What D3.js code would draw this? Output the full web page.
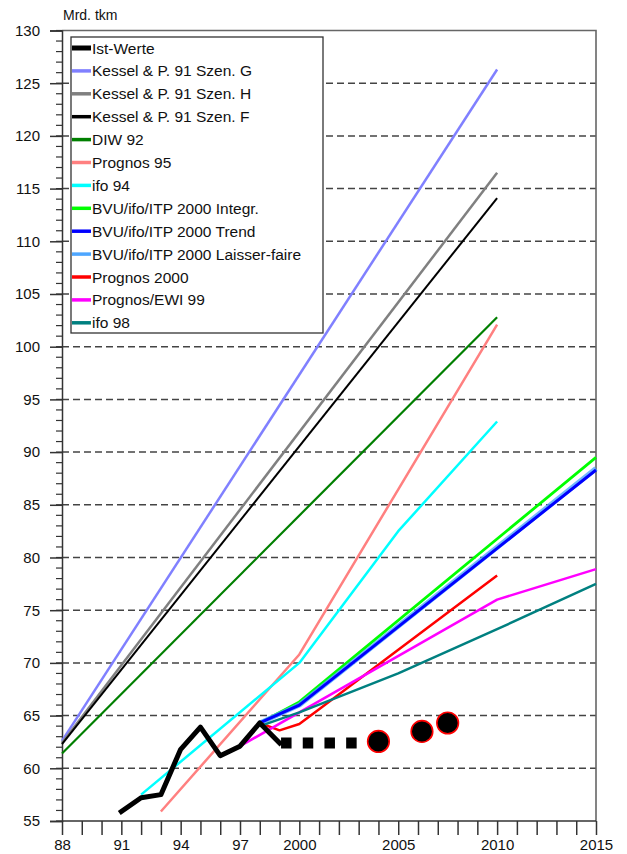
<!DOCTYPE html>
<html>
<head>
<meta charset="utf-8">
<script src="https://cdn.jsdelivr.net/npm/d3@7"></script>
<style>
  body { margin: 0; background: #fff; }
  svg { display: block; font-family: "Liberation Sans", Arial, sans-serif; }
</style>
</head>
<body>
<svg id="chart" width="627" height="854"></svg>
<script>
// values: [year, Mrd. tkm]
const istWerte = [[1991, 55.9], [1992, 57.2], [1993, 57.5], [1994, 61.8], [1995, 63.9],
                  [1996, 61.2], [1997, 62.1], [1998, 64.3], [1999, 62.4]];
const istGeschaetzt = [[1999, 62.4], [2003, 62.4]];
const istPunkte = [[2004, 62.55], [2006.2, 63.5], [2007.5, 64.3]];

const kesselG = [[1988, 62.6], [2010, 126.3]];
const kesselH = [[1988, 62.4], [2010, 116.5]];
const kesselF = [[1988, 62.3], [2010, 114.1]];
const diw92 = [[1988, 61.4], [2010, 102.8]];
const prognos95 = [[1993, 55.9], [2000, 70.8], [2010, 102.1]];
const ifo94 = [[1992, 57.5], [2000, 70.0], [2005, 82.5], [2010, 92.9]];
const bvuIntegr = [[1998, 64.3], [2000, 66.3], [2015, 89.5]];
const bvuTrend = [[1998, 64.3], [2000, 66.0], [2015, 88.3]];
const bvuLaisser = [[1998, 64.3], [2000, 66.0], [2015, 88.45]];
const prognos2000 = [[1998, 64.3], [1999, 63.6], [2000, 64.2], [2001, 65.6], [2010, 78.3]];
const prognosEwi99 = [[1997, 62.1], [2010, 76.0], [2015, 78.9]];
const ifo98 = [[1998, 64.0], [2000, 65.3], [2005, 69.0], [2010, 73.2], [2015, 77.5]];

const legendNames = ["Ist-Werte", "Kessel & P. 91 Szen. G", "Kessel & P. 91 Szen. H",
  "Kessel & P. 91 Szen. F", "DIW 92", "Prognos 95", "ifo 94", "BVU/ifo/ITP 2000 Integr.",
  "BVU/ifo/ITP 2000 Trend", "BVU/ifo/ITP 2000 Laisser-faire", "Prognos 2000",
  "Prognos/EWI 99", "ifo 98"];

const xTickYears = d3.range(1988, 2016);
const xTickLabels = {1988: "88", 1991: "91", 1994: "94", 1997: "97",
                     2000: "2000", 2005: "2005", 2010: "2010", 2015: "2015"};
const yMajor = d3.range(55, 131, 5);
const yMinor = d3.range(55, 131, 1);

// styles, in legend order
const colors = ["#000000", "#8080ff", "#808080", "#000000", "#007f00", "#ff8080", "#00ffff",
  "#00ff00", "#0000ff", "#4da6ff", "#ff0000", "#ff00ff", "#008080"];
const widths = [5, 2.5, 2.5, 2, 2.2, 2.5, 2.5, 2.8, 3, 5, 2.5, 2.5, 2.5];
const seriesData = [istWerte, kesselG, kesselH, kesselF, diw92, prognos95, ifo94,
  bvuIntegr, bvuTrend, bvuLaisser, prognos2000, prognosEwi99, ifo98];

const svg = d3.select("#chart");
const x = d3.scaleLinear().domain([1988, 2015]).range([62, 596]);
const y = d3.scaleLinear().domain([55, 130]).range([821, 30.5]);

// grid
svg.append("g")
    .selectAll("line")
    .data(yMajor.filter(v => v > 55 && v < 130))
    .join("line")
    .attr("x1", x(1988)).attr("x2", x(2015))
    .attr("y1", d => y(d)).attr("y2", d => y(d))
    .attr("stroke", "#444")
    .attr("stroke-width", 1.5)
    .attr("stroke-dasharray", "7,4");

// frame top + right
svg.append("path")
    .attr("d", `M${x(1988)},${y(130)}H${x(2015)}V${y(55)}`)
    .attr("fill", "none")
    .attr("stroke", "#666")
    .attr("stroke-width", 1.6);

// minor y ticks
svg.append("g")
    .selectAll("line")
    .data(yMinor)
    .join("line")
    .attr("x1", x(1988) - 6).attr("x2", x(1988))
    .attr("y1", d => y(d)).attr("y2", d => y(d))
    .attr("stroke", "#333")
    .attr("stroke-width", 1.2);

const yAxis = svg.append("g")
    .attr("transform", `translate(${x(1988)},0)`)
    .call(d3.axisLeft(y).tickValues(yMajor).tickSize(12).tickPadding(10).tickFormat(d3.format("d")));
yAxis.selectAll("path, line").attr("stroke", "#333").attr("stroke-width", 1.5);
yAxis.selectAll("text").style("font-size", "15px").attr("fill", "#111");

const xAxis = svg.append("g")
    .attr("transform", `translate(0,${y(55)})`)
    .call(d3.axisBottom(x).tickValues(xTickYears).tickSize(14).tickPadding(4)
        .tickFormat(d => xTickLabels[d] || ""));
xAxis.selectAll("path, line").attr("stroke", "#333").attr("stroke-width", 1.5);
xAxis.select(".domain").attr("d", `M${x(1988)},0H${x(2015)}`);
xAxis.selectAll("text").style("font-size", "15px").attr("fill", "#111");

svg.append("text")
    .attr("x", 63).attr("y", 20)
    .style("font-size", "14px")
    .attr("fill", "#111")
    .text("Mrd. tkm");

// series lines
const line = d3.line().x(d => x(d[0])).y(d => y(d[1]));
const drawOrder = [1, 2, 3, 4, 5, 6, 7, 9, 8, 10, 11, 12, 0];
svg.append("g")
    .attr("fill", "none")
    .attr("stroke-linejoin", "round")
    .selectAll("path")
    .data(drawOrder)
    .join("path")
    .attr("d", i => line(seriesData[i]))
    .attr("stroke", i => colors[i])
    .attr("stroke-width", i => widths[i])
    .attr("stroke-opacity", i => i === 9 ? 0.8 : 1)
    .attr("stroke-linecap", i => i === 0 ? "square" : "butt");

// estimated values: square dots
svg.append("path")
    .attr("d", line(istGeschaetzt))
    .attr("fill", "none")
    .attr("stroke", "#000")
    .attr("stroke-width", 11)
    .attr("stroke-dasharray", "10.5,11.2")
    .attr("stroke-dashoffset", -1.5);

svg.append("g")
    .selectAll("circle")
    .data(istPunkte)
    .join("circle")
    .attr("cx", d => x(d[0]))
    .attr("cy", d => y(d[1]))
    .attr("r", 10.8)
    .attr("fill", "#000")
    .attr("stroke", "#ff0000")
    .attr("stroke-width", 1.6);

// legend
const lg = svg.append("g");
lg.append("rect")
    .attr("x", 71).attr("y", 37)
    .attr("width", 252).attr("height", 296)
    .attr("fill", "#fff")
    .attr("stroke", "#333")
    .attr("stroke-width", 1.3);
const item = lg.selectAll("g.item")
    .data(legendNames)
    .join("g")
    .attr("class", "item")
    .attr("transform", (d, i) => `translate(72,${48 + i * 22.9})`);
item.append("line")
    .attr("x1", 0).attr("x2", 19)
    .attr("stroke", (d, i) => colors[i])
    .attr("stroke-width", (d, i) => i === 0 ? 5 : 3.5);
item.append("text")
    .attr("x", 20)
    .attr("dy", "0.36em")
    .style("font-size", "15.5px")
    .attr("fill", "#111")
    .text(d => d);
</script>
</body>
</html>
